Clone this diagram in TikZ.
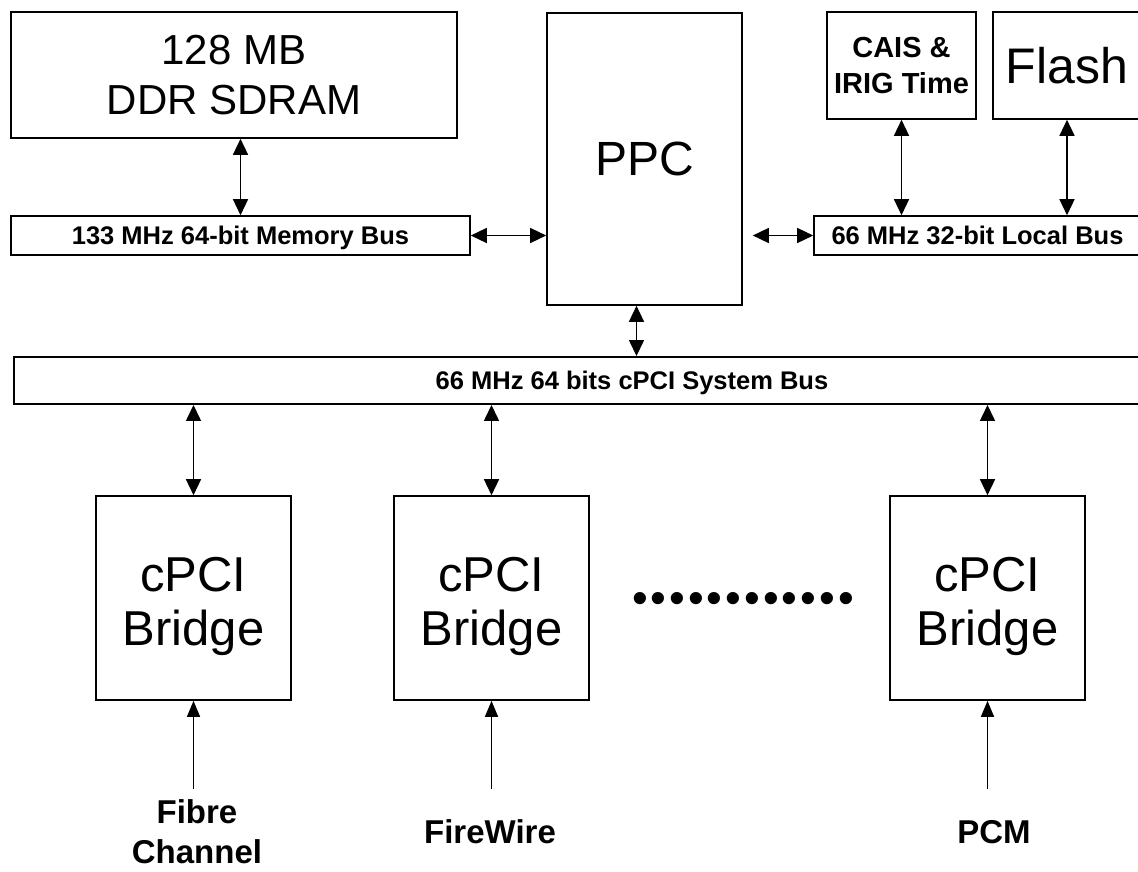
\documentclass[tikz,border=0pt]{standalone}
\usepackage{fontspec}
\setmainfont{Liberation Sans}
\newfontfamily\dotfont{Liberation Sans}[LetterSpace=6.6]
\usetikzlibrary{arrows.meta}

\begin{document}
\begin{tikzpicture}[x=1pt,y=-1pt,
  blk/.style={draw,line width=1.6pt,inner sep=0pt,align=center},
  bus/.style={blk,text height=18pt,text depth=0pt,font=\bfseries\fontsize{25.5}{30}\selectfont},
  big/.style={blk,font=\fontsize{48}{54}\selectfont},
  bridge/.style={big,font=\fontsize{49}{54}\selectfont,minimum width=195pt,minimum height=204pt},
  lbl/.style={align=center,font=\bfseries\fontsize{33}{40}\selectfont},
  link/.style={line width=1.4pt,{Triangle[length=16pt,width=15pt]}-{Triangle[length=16pt,width=15pt]}},
  feed/.style={line width=1.4pt,-{Triangle[length=16pt,width=13pt]}}]
			\useasboundingbox (0,0) rectangle (1138,871);
			\node[big,font=\fontsize{42}{50}\selectfont,minimum width=446pt,minimum height=126pt] (SDRAM) at (234,75) {128 MB\\DDR SDRAM};
			\node[bus,minimum width=459pt,minimum height=39pt] (MemBus) at (240.5,235.5) {133 MHz 64-bit Memory Bus};
			\node[big,minimum width=195pt,minimum height=292pt] (PPC) at (644.5,159) {PPC};
			\node[blk,font=\bfseries\fontsize{29}{36}\selectfont,minimum width=149pt,minimum height=107pt] (CAIS) at (901.5,65.5) {CAIS \&\\IRIG Time};
			\node[big,font=\fontsize{50}{60}\selectfont,minimum width=148pt,minimum height=107pt] (Flash) at (1067,65.5) {Flash};
			\node[bus,minimum width=327pt,minimum height=39pt] (LocalBus) at (977.5,235.5) {66 MHz 32-bit Local Bus};
			\node[bus,line width=1.9pt,minimum width=1236pt,minimum height=47pt] (SysBus) at (632,380.5) {66 MHz 64 bits cPCI System Bus};
			
			\node[bridge] (BridgeA) at (193.5,598) {\rule{0pt}{52pt}cPCI\\Bridge};
			\node[bridge] (BridgeB) at (491.5,598) {\rule{0pt}{52pt}cPCI\\Bridge};
			\node[bridge] (BridgeC) at (987.5,598) {\rule{0pt}{52pt}cPCI\\Bridge};
			\node[font=\dotfont\fontsize{45}{45}\selectfont,anchor=base,inner sep=0pt] (Dots) at (743,613) {••••••••••••};
			
			\coordinate (PPCgap) at ([xshift=10pt]PPC.east);
			\coordinate (PPCdown) at ([xshift=-8pt]PPC.south);
			\coordinate (FibreIn) at (193.5,789);
			\coordinate (FireIn) at (491.5,789);
			\coordinate (PCMIn) at (987.5,789);
			
			\draw[link] (SDRAM.south -| MemBus.north) to (MemBus.north);
			\draw[link] (MemBus.east) to (MemBus.east -| PPC.west);
			\draw[link] (PPCgap |- LocalBus.west) to (LocalBus.west);
			\draw[link] (CAIS.south) to (CAIS.south |- LocalBus.north);
			\draw[link] (Flash.south) to (Flash.south |- LocalBus.north);
			\draw[link] (PPCdown) to (PPCdown |- SysBus.north);
			\draw[link] (SysBus.south -| BridgeA.north) to (BridgeA.north);
			\draw[link] (SysBus.south -| BridgeB.north) to (BridgeB.north);
			\draw[link] (SysBus.south -| BridgeC.north) to (BridgeC.north);
			\draw[feed] (FibreIn) to (BridgeA.south);
			\draw[feed] (FireIn) to (BridgeB.south);
			\draw[feed] (PCMIn) to (BridgeC.south);
			
			\node[lbl] (FibreLbl) at (197,832) {Fibre\\Channel};
			\node[lbl] (FireLbl) at (490,832) {FireWire};
			\node[lbl] (PCMLbl) at (994,832) {PCM};
\end{tikzpicture}
\end{document}
